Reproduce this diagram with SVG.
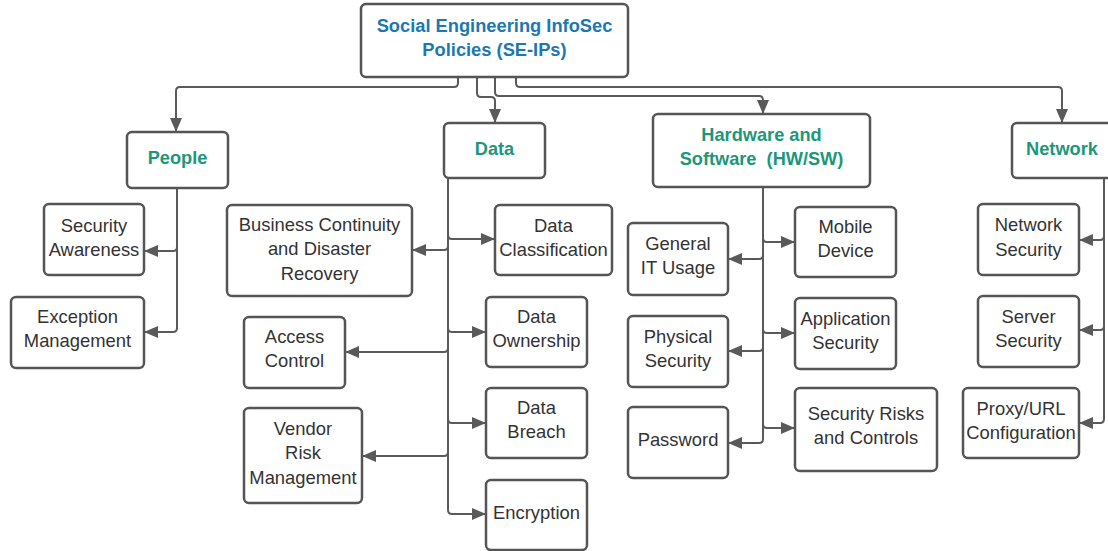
<svg xmlns="http://www.w3.org/2000/svg" width="1108" height="551" viewBox="0 0 1108 551">
<style>
.box{fill:#fff;stroke:#555;stroke-width:2.5}
.t{font-family:"Liberation Sans",Arial,sans-serif;font-size:18.4px;fill:#333;text-anchor:middle}
.h{font-family:"Liberation Sans",Arial,sans-serif;font-size:18.2px;font-weight:bold;fill:#1c977a;text-anchor:middle}
.r{font-family:"Liberation Sans",Arial,sans-serif;font-size:18.3px;font-weight:bold;fill:#1c78b2;text-anchor:middle}
.c{fill:none;stroke:#5a5a5a;stroke-width:2;marker-end:url(#a)}
</style>
<defs>
<marker id="a" markerUnits="userSpaceOnUse" markerWidth="14" markerHeight="12" refX="13" refY="6" orient="auto">
<path d="M0,0 L14,6 L0,12 z" fill="#5a5a5a"/>
</marker>
</defs>
<rect width="1108" height="551" fill="#fff"/>
<g id="connectors">
<path class="c" d="M458,77 V83 Q458,87 454,87 H180 Q176,87 176,91 V131"/>
<path class="c" d="M477,77 V93 Q477,97 481,97 H491 Q495,97 495,101 V122"/>
<path class="c" d="M495,77 V92 Q495,96 499,96 H759 Q763,96 763,100 V113"/>
<path class="c" d="M516,77 V83 Q516,87 520,87 H1058 Q1062,87 1062,91 V122"/>
<path class="c" d="M177,188 V247 Q177,251 173,251 H145"/>
<path class="c" d="M177,188 V328 Q177,332 173,332 H145"/>
<path class="c" d="M448,178 V246 Q448,250 444,250 H413"/>
<path class="c" d="M448,178 V235 Q448,239 452,239 H494"/>
<path class="c" d="M448,178 V328 Q448,332 452,332 H485"/>
<path class="c" d="M448,178 V348 Q448,352 444,352 H346"/>
<path class="c" d="M448,178 V419 Q448,423 452,423 H485"/>
<path class="c" d="M448,178 V452 Q448,456 444,456 H363"/>
<path class="c" d="M448,178 V510 Q448,514 452,514 H485"/>
<path class="c" d="M763,187 V238 Q763,242 767,242 H794"/>
<path class="c" d="M763,187 V255 Q763,259 759,259 H729"/>
<path class="c" d="M763,187 V329 Q763,333 767,333 H794"/>
<path class="c" d="M763,187 V347 Q763,351 759,351 H729"/>
<path class="c" d="M763,187 V424 Q763,428 767,428 H794"/>
<path class="c" d="M763,187 V439 Q763,443 759,443 H729"/>
<path class="c" d="M1104,178 V236 Q1104,240 1100,240 H1080"/>
<path class="c" d="M1104,178 V326 Q1104,330 1100,330 H1080"/>
<path class="c" d="M1104,178 V419 Q1104,423 1100,423 H1080"/>
</g>
<g id="root"><rect class="box" x="361" y="4" width="267" height="73" rx="5"/>
<text class="r" x="494.5" y="32">Social Engineering InfoSec</text><text class="r" x="494.5" y="56">Policies (SE-IPs)</text></g>
<g id="people"><rect class="box" x="127" y="132" width="101" height="56" rx="5"/><text class="h" x="177.5" y="164">People</text></g>
<g id="data"><rect class="box" x="444" y="123" width="101" height="55" rx="5"/><text class="h" x="494.5" y="155">Data</text></g>
<g id="hwsw"><rect class="box" x="653" y="114" width="217" height="73" rx="5"/><text class="h" x="761.5" y="141">Hardware and</text><text class="h" x="761.5" y="165" xml:space="preserve">Software  (HW/SW)</text></g>
<g id="network"><rect class="box" x="1012" y="123" width="102" height="55" rx="5"/><text class="h" x="1062" y="155">Network</text></g>
<g id="security-awareness"><rect class="box" x="44" y="204" width="100" height="71" rx="5"/><text class="t" x="94" y="232">Security</text><text class="t" x="94" y="256">Awareness</text></g>
<g id="exception-management"><rect class="box" x="11" y="297" width="133" height="71" rx="5"/><text class="t" x="77.5" y="323">Exception</text><text class="t" x="77.5" y="347">Management</text></g>
<g id="business-continuity"><rect class="box" x="227" y="205" width="185" height="91" rx="5"/><text class="t" x="319.5" y="231">Business Continuity</text><text class="t" x="319.5" y="255">and Disaster</text><text class="t" x="319.5" y="280">Recovery</text></g>
<g id="data-classification"><rect class="box" x="495" y="205" width="117" height="70" rx="5"/><text class="t" x="553.5" y="232">Data</text><text class="t" x="553.5" y="256">Classification</text></g>
<g id="access-control"><rect class="box" x="244" y="317" width="101" height="71" rx="5"/><text class="t" x="294.5" y="343">Access</text><text class="t" x="294.5" y="367">Control</text></g>
<g id="data-ownership"><rect class="box" x="486" y="297" width="101" height="70" rx="5"/><text class="t" x="536.5" y="323">Data</text><text class="t" x="536.5" y="347">Ownership</text></g>
<g id="vendor-risk"><rect class="box" x="244" y="408" width="118" height="95" rx="5"/><text class="t" x="303" y="435">Vendor</text><text class="t" x="303" y="459">Risk</text><text class="t" x="303" y="484">Management</text></g>
<g id="data-breach"><rect class="box" x="486" y="388" width="101" height="70" rx="5"/><text class="t" x="536.5" y="414">Data</text><text class="t" x="536.5" y="438">Breach</text></g>
<g id="encryption"><rect class="box" x="486" y="480" width="101" height="70" rx="5"/><text class="t" x="536.5" y="519">Encryption</text></g>
<g id="mobile-device"><rect class="box" x="795" y="207" width="101" height="70" rx="5"/><text class="t" x="845.5" y="233">Mobile</text><text class="t" x="845.5" y="257">Device</text></g>
<g id="general-it"><rect class="box" x="628" y="223" width="100" height="72" rx="5"/><text class="t" x="678" y="250">General</text><text class="t" x="678" y="274">IT Usage</text></g>
<g id="application-security"><rect class="box" x="795" y="298" width="101" height="71" rx="5"/><text class="t" x="845.5" y="325">Application</text><text class="t" x="845.5" y="349">Security</text></g>
<g id="physical-security"><rect class="box" x="628" y="316" width="100" height="71" rx="5"/><text class="t" x="678" y="343">Physical</text><text class="t" x="678" y="367">Security</text></g>
<g id="security-risks"><rect class="box" x="795" y="388" width="142" height="83" rx="5"/><text class="t" x="866" y="420">Security Risks</text><text class="t" x="866" y="444">and Controls</text></g>
<g id="password"><rect class="box" x="628" y="407" width="100" height="71" rx="5"/><text class="t" x="678" y="446">Password</text></g>
<g id="network-security"><rect class="box" x="978" y="204" width="101" height="71" rx="5"/><text class="t" x="1028.5" y="231">Network</text><text class="t" x="1028.5" y="256">Security</text></g>
<g id="server-security"><rect class="box" x="978" y="296" width="101" height="71" rx="5"/><text class="t" x="1028.5" y="323">Server</text><text class="t" x="1028.5" y="347">Security</text></g>
<g id="proxy-url"><rect class="box" x="963" y="388" width="116" height="70" rx="5"/><text class="t" x="1021" y="415">Proxy/URL</text><text class="t" x="1021" y="439">Configuration</text></g>
</svg>
